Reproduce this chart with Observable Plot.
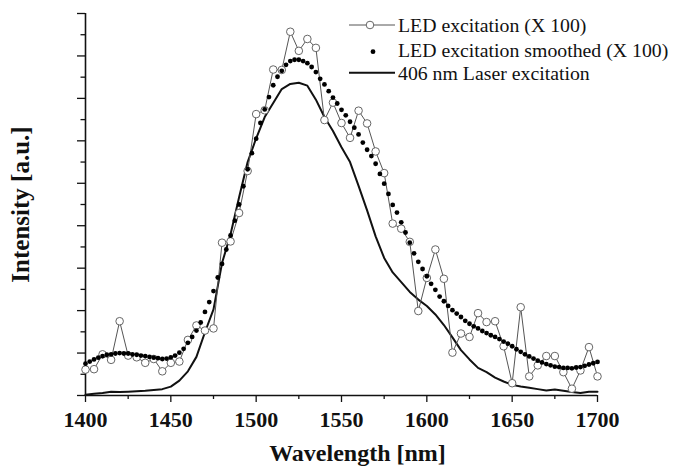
<!DOCTYPE html>
<html><head><meta charset="utf-8">
<script src="https://cdn.jsdelivr.net/npm/d3@7"></script>
<script src="https://cdn.jsdelivr.net/npm/@observablehq/plot@0.6"></script>
<style>body{margin:0;background:#fff}</style>
</head><body><div id="chart"></div>
<script>
// Wavelength grids (nm)
const rawWavelengths = d3.range(1400, 1700.1, 5);
const smoothWavelengths = d3.range(1400, 1700.1, 2.5);

// LED excitation (X 100), open circles
const ledRaw = [0.61,0.62,0.97,0.84,1.75,0.94,0.90,0.77,0.86,0.57,0.77,0.80,1.31,1.65,1.53,1.58,3.60,3.63,4.30,5.29,6.63,6.72,7.68,7.67,8.57,8.12,8.40,8.19,6.49,6.90,6.42,6.07,6.71,6.41,5.75,5.24,4.05,3.93,3.62,1.99,2.77,3.44,2.75,1.01,1.46,1.38,1.94,1.73,1.75,1.16,0.29,2.08,0.45,0.71,0.93,0.93,0.55,0.16,0.59,1.14,0.45];

// LED excitation smoothed (X 100), filled dots
const ledSmooth = [0.75,0.80,0.85,0.89,0.93,0.96,0.97,0.99,1.00,0.99,0.99,0.97,0.96,0.94,0.93,0.91,0.89,0.88,0.86,0.87,
0.90,0.94,1.01,1.10,1.24,1.38,1.53,1.72,1.97,2.20,2.46,2.78,3.10,3.44,3.77,4.12,4.50,4.93,5.33,5.71,
6.05,6.42,6.74,7.03,7.31,7.51,7.65,7.79,7.88,7.91,7.91,7.88,7.83,7.74,7.62,7.46,7.33,7.17,7.02,6.88,
6.73,6.60,6.45,6.31,6.15,5.96,5.79,5.64,5.46,5.22,4.99,4.75,4.49,4.31,4.08,3.84,3.60,3.35,3.15,2.98,
2.81,2.63,2.49,2.33,2.22,2.11,2.01,1.93,1.85,1.76,1.69,1.63,1.58,1.52,1.47,1.42,1.38,1.33,1.27,1.22,
1.16,1.09,1.03,0.97,0.92,0.87,0.82,0.78,0.74,0.71,0.68,0.67,0.65,0.65,0.64,0.66,0.67,0.70,0.73,0.76,0.79];

// 406 nm Laser excitation, solid line
const laser = [0.02,0.04,0.06,0.09,0.08,0.09,0.10,0.11,0.13,0.15,0.21,0.35,0.57,0.91,1.49,2.03,3.12,3.80,4.67,5.50,
6.06,6.56,6.89,7.22,7.34,7.37,7.30,6.97,6.56,6.23,5.85,5.50,4.94,4.36,3.75,3.24,2.90,2.67,2.44,2.26,
2.11,1.91,1.66,1.37,1.07,0.85,0.65,0.55,0.42,0.33,0.25,0.21,0.18,0.15,0.12,0.14,0.11,0.08,0.06,0.09,0.09];

const xMajorTicks = [1400,1450,1500,1550,1600,1650,1700];
const xMinorTicks = [1425,1475,1525,1575,1625,1675];
const yMajorTicks = [0,1,2,3,4,5,6,7,8,9];
const yMinorTicks = [0.5,1.5,2.5,3.5,4.5,5.5,6.5,7.5,8.5];

const legendLabels = ["LED excitation (X 100)", "LED excitation smoothed (X 100)", "406 nm Laser excitation"];

const rawData = rawWavelengths.map((w,i) => ({w, v: ledRaw[i]}));
const smoothData = smoothWavelengths.map((w,i) => ({w, v: ledSmooth[i]}));
const laserData = rawWavelengths.map((w,i) => ({w, v: laser[i]}));

const serif = "'Liberation Serif','Times New Roman',Times,serif";
const noText = () => "";

const chart = Plot.plot({
  width: 681, height: 466,
  marginLeft: 85, marginRight: 84, marginTop: 13, marginBottom: 71,
  x: {domain: [1400, 1700]},
  y: {domain: [0, 9]},
  style: {fontFamily: serif, background: "white", color: "#111"},
  marks: [
    Plot.axisY(yMajorTicks, {tickSize: 8, tickFormat: noText, label: null, strokeWidth: 1.3}),
    Plot.axisY(yMinorTicks, {tickSize: 4.5, tickFormat: noText, label: null, strokeWidth: 1.3}),
    Plot.axisX(xMajorTicks, {tickSize: 7, tickPadding: 9, fontSize: 22, fontWeight: "bold", label: null, tickFormat: d => String(d), strokeWidth: 1.3}),
    Plot.axisX(xMinorTicks, {tickSize: 4, tickFormat: noText, label: null, strokeWidth: 1.3}),
    Plot.ruleX([1400], {strokeWidth: 1.6, stroke: "#111"}),
    Plot.ruleY([0], {strokeWidth: 1.6, stroke: "#111"}),
    Plot.line(laserData, {x: "w", y: "v", stroke: "#111", strokeWidth: 2}),
    Plot.line(rawData, {x: "w", y: "v", stroke: "#555", strokeWidth: 1}),
    Plot.dot(rawData, {x: "w", y: "v", r: 3.8, stroke: "#666", fill: "white", strokeWidth: 1}),
    Plot.dot(smoothData, {x: "w", y: "v", r: 2.4, fill: "#000", stroke: "none"}),
    Plot.text(["Wavelength [nm]"], {frameAnchor: "bottom", textAnchor: "middle", lineAnchor: "middle", dx: 16, dy: 58, fontSize: 24, fontWeight: "bold", fill: "#111"}),
    Plot.text(["Intensity [a.u.]"], {frameAnchor: "left", textAnchor: "middle", lineAnchor: "middle", dx: -65, rotate: -90, fontSize: 25, fontWeight: "bold", fill: "#111"})
  ]
});

// Legend (top right)
const svg = d3.select(chart);
const lg = svg.append("g").attr("font-family", serif).attr("font-size", 19.8).attr("fill", "#111").attr("text-anchor", "start");
const baselines = [32.3, 56.7, 80];
const symY = [25, 51.7, 72.7];
lg.append("line").attr("x1", 349).attr("x2", 395).attr("y1", symY[0]).attr("y2", symY[0]).attr("stroke", "#555").attr("stroke-width", 1);
lg.append("circle").attr("cx", 370).attr("cy", symY[0]).attr("r", 3.8).attr("fill", "white").attr("stroke", "#666");
lg.append("circle").attr("cx", 373).attr("cy", symY[1]).attr("r", 2.4).attr("fill", "#000");
lg.append("line").attr("x1", 349).attr("x2", 395).attr("y1", symY[2]).attr("y2", symY[2]).attr("stroke", "#111").attr("stroke-width", 2);
legendLabels.forEach((t, i) => {
  lg.append("text").attr("x", 398).attr("y", baselines[i]).attr("text-anchor", "start").text(t);
});

document.getElementById("chart").appendChild(chart);
</script>
</body></html>
